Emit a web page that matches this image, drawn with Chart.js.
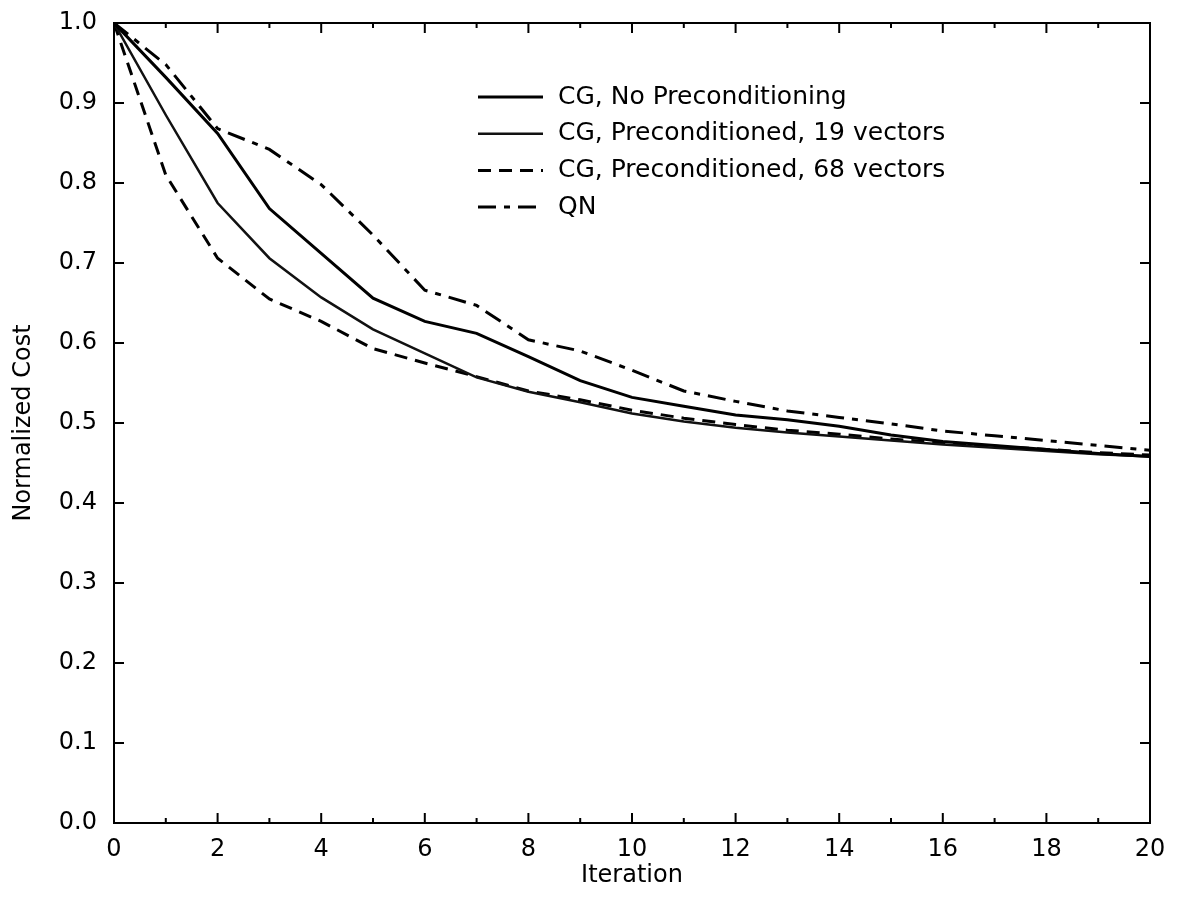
<!DOCTYPE html>
<html>
<head>
<meta charset="utf-8">
<script src="https://cdn.jsdelivr.net/npm/chart.js@4.4.0/dist/chart.umd.min.js"></script>
<style>
html, body { margin: 0; padding: 0; background: #ffffff; }
#wrap { width: 1178px; height: 902px; position: relative; }
</style>
</head>
<body>
<div id="wrap"><canvas id="c" width="1178" height="902"></canvas></div>
<script>
// ---- data ----
const iterations = [0, 1, 2, 3, 4, 5, 6, 7, 8, 9, 10, 11, 12, 13, 14, 15, 16, 17, 18, 19, 20];
const cgNoPrecond = [1.0, 0.932, 0.862, 0.768, 0.712, 0.656, 0.627, 0.612, 0.583, 0.553, 0.532, 0.521, 0.510, 0.504, 0.496, 0.485, 0.477, 0.472, 0.467, 0.462, 0.458];
const cgPrecond19 = [1.0, 0.885, 0.775, 0.706, 0.657, 0.617, 0.587, 0.557, 0.539, 0.526, 0.512, 0.502, 0.494, 0.488, 0.483, 0.478, 0.473, 0.469, 0.465, 0.461, 0.458];
const cgPrecond68 = [1.0, 0.810, 0.706, 0.655, 0.627, 0.593, 0.575, 0.558, 0.540, 0.529, 0.516, 0.506, 0.498, 0.491, 0.486, 0.480, 0.475, 0.471, 0.467, 0.463, 0.460];
const qn = [1.0, 0.948, 0.868, 0.842, 0.798, 0.735, 0.666, 0.647, 0.604, 0.590, 0.566, 0.540, 0.527, 0.515, 0.507, 0.499, 0.490, 0.484, 0.478, 0.472, 0.466];
const seriesLabels = ['CG, No Preconditioning', 'CG, Preconditioned, 19 vectors', 'CG, Preconditioned, 68 vectors', 'QN'];
const xMajorTicks = [0, 2, 4, 6, 8, 10, 12, 14, 16, 18, 20];
const xMinorTicks = [1, 3, 5, 7, 9, 11, 13, 15, 17, 19];
const yTicks = [0.0, 0.1, 0.2, 0.3, 0.4, 0.5, 0.6, 0.7, 0.8, 0.9, 1.0];
const xTitle = 'Iteration';
const yTitle = 'Normalized Cost';

const toPoints = (vals) => iterations.map((it, i) => ({ x: it, y: vals[i] }));

const FONT = "'DejaVu Sans', 'Liberation Sans', Arial, sans-serif";

// inward ticks + frame
const frameTicks = {
  id: 'frameTicks',
  afterDatasetsDraw(chart) {
    const { ctx, chartArea: a, scales: { x, y } } = chart;
    ctx.save();
    ctx.strokeStyle = '#000';
    ctx.lineWidth = 2;
    ctx.strokeRect(a.left, a.top, a.right - a.left, a.bottom - a.top);
    ctx.beginPath();
    xMajorTicks.forEach(v => {
      const px = x.getPixelForValue(v);
      ctx.moveTo(px, a.bottom); ctx.lineTo(px, a.bottom - 10);
      ctx.moveTo(px, a.top); ctx.lineTo(px, a.top + 10);
    });
    xMinorTicks.forEach(v => {
      const px = x.getPixelForValue(v);
      ctx.moveTo(px, a.bottom); ctx.lineTo(px, a.bottom - 5);
      ctx.moveTo(px, a.top); ctx.lineTo(px, a.top + 5);
    });
    yTicks.forEach(v => {
      const py = y.getPixelForValue(v);
      ctx.moveTo(a.left, py); ctx.lineTo(a.left + 10, py);
      ctx.moveTo(a.right, py); ctx.lineTo(a.right - 10, py);
    });
    ctx.stroke();
    ctx.restore();
  }
};

// legend drawn inside the plot area using each dataset's own line style
const insideLegend = {
  id: 'insideLegend',
  afterDatasetsDraw(chart) {
    const { ctx } = chart;
    const x0 = 478, lineLen = 65, textGap = 15, y0 = 97, rowH = 36.7;
    ctx.save();
    chart.data.datasets.forEach((ds, i) => {
      const yy = y0 + i * rowH;
      ctx.beginPath();
      ctx.setLineDash(ds.borderDash || []);
      ctx.lineWidth = ds.borderWidth;
      ctx.strokeStyle = ds.borderColor;
      ctx.moveTo(x0, yy);
      ctx.lineTo(x0 + lineLen, yy);
      ctx.stroke();
      ctx.setLineDash([]);
      ctx.fillStyle = '#000';
      ctx.font = '25px ' + FONT;
      ctx.textBaseline = 'middle';
      ctx.textAlign = 'left';
      ctx.fillText(ds.label, x0 + lineLen + textGap, yy);
    });
    ctx.restore();
  }
};

new Chart(document.getElementById('c'), {
  type: 'line',
  data: {
    datasets: [
      { label: seriesLabels[0], data: toPoints(cgNoPrecond), borderColor: '#000', borderWidth: 3, pointRadius: 0, tension: 0, fill: false },
      { label: seriesLabels[1], data: toPoints(cgPrecond19), borderColor: '#111', borderWidth: 2.5, pointRadius: 0, tension: 0, fill: false },
      { label: seriesLabels[2], data: toPoints(cgPrecond68), borderColor: '#000', borderWidth: 3, borderDash: [13, 8], pointRadius: 0, tension: 0, fill: false },
      { label: seriesLabels[3], data: toPoints(qn), borderColor: '#000', borderWidth: 3, borderDash: [18, 8, 6, 8], pointRadius: 0, tension: 0, fill: false }
    ]
  },
  options: {
    responsive: false,
    animation: false,
    devicePixelRatio: 1,
    layout: { padding: { top: 23, right: 28, left: 0, bottom: 0 } },
    plugins: {
      tooltip: { enabled: false },
      legend: { display: false }
    },
    scales: {
      x: {
        type: 'linear',
        min: 0,
        max: 20,
        afterBuildTicks: (s) => { s.ticks = xMajorTicks.map(v => ({ value: v })); },
        afterFit: (s) => { s.height = 79; s.paddingLeft = 0; s.paddingRight = 0; },
        grid: { display: false, drawTicks: false },
        border: { display: true, color: '#000', width: 2 },
        ticks: { color: '#000', padding: 12, font: { family: FONT, size: 24 }, maxRotation: 0, autoSkip: false },
        title: { display: true, text: xTitle, color: '#000', font: { family: FONT, size: 24 }, padding: { top: 0, bottom: 12 } }
      },
      y: {
        type: 'linear',
        min: 0,
        max: 1,
        afterBuildTicks: (s) => { s.ticks = yTicks.map(v => ({ value: v })); },
        afterFit: (s) => { s.width = 114; s.paddingTop = 0; s.paddingBottom = 0; },
        grid: { display: false, drawTicks: false },
        border: { display: true, color: '#000', width: 2 },
        ticks: { color: '#000', padding: 17, font: { family: FONT, size: 24 }, autoSkip: false, callback: (v) => Number(v).toFixed(1) },
        title: { display: true, text: yTitle, color: '#000', font: { family: FONT, size: 24 }, padding: { top: 9, bottom: 0 } }
      }
    }
  },
  plugins: [frameTicks, insideLegend]
});
</script>
</body>
</html>
